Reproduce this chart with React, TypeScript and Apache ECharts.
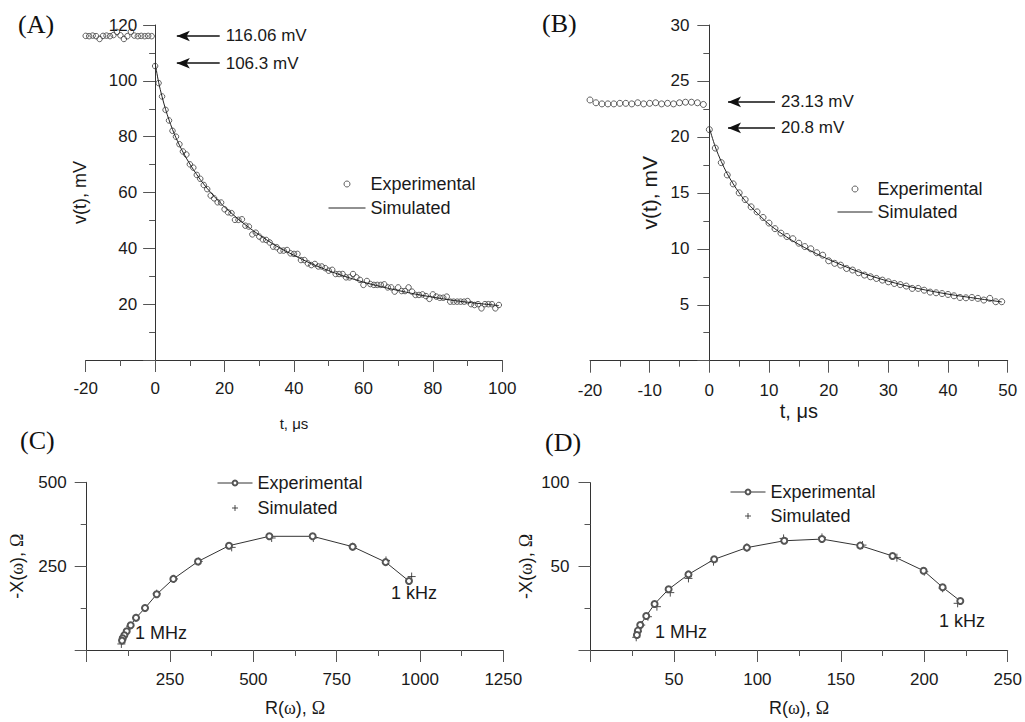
import React, { useEffect, useRef } from 'react';
import * as echarts from 'echarts';

const SANS = "'Liberation Sans', Arial, sans-serif";
const SERIF = "'Liberation Serif', 'Times New Roman', serif";

// ---------- Panel A: voltage transient (mV) ----------
const aPreStart = -20; // first sample time, μs (1 μs spacing)
const aPreV = [116.1, 116.0, 116.2, 116.0, 115.0, 116.1, 116.2, 116.0, 116.4, 117.5,
  116.3, 115.0, 116.0, 117.6, 116.2, 116.0, 116.1, 116.0, 116.1, 116.0];
const aPostStart = 0;
const aPostV = [105.3, 99.2, 94.4, 89.6, 85.8, 82.1, 80, 77.3, 74.7, 73.6,
  70.1, 68.9, 66.3, 64.9, 62.7, 61.2, 58.9, 57.9, 56.5, 56.4,
  54, 52.9, 52.6, 50.2, 50.2, 50.4, 48.1, 47.8, 45, 45.6,
  44.2, 43.2, 43, 42.1, 40.6, 40.4, 39.2, 39.2, 39.4, 38.2,
  38, 38, 35.8, 35.8, 34.6, 34, 34.4, 33.5, 33.5, 32.9,
  32, 32.3, 30.8, 30.8, 30.8, 29.6, 29.6, 30.8, 29.6, 28.7,
  26.9, 28.3, 27.2, 26.9, 26.9, 26.9, 27.1, 26, 26, 24.5,
  26, 24.7, 24.7, 26, 24.5, 23.3, 23.3, 23.5, 22.9, 21.9,
  23.5, 22.7, 22.3, 22.3, 22.7, 20.9, 20.9, 20.9, 20.9, 20.9,
  21.1, 20, 19.7, 20, 18.5, 20, 20, 20, 18.5, 19.7];
const aSimT = [0, 1, 2, 3, 4, 5, 6, 8, 10, 12, 14, 16, 18, 20, 25, 30, 35, 40, 45, 50, 55, 60, 65, 70, 75, 80, 85, 90, 95, 99];
const aSimV = [106.3, 99.5, 94.3, 89.8, 86, 82.6, 79.6, 74.5, 70.2, 66.4, 63, 60, 57.3, 54.8, 49.4, 44.8, 40.8, 37.5, 34.5, 32, 29.8, 27.9, 26.3, 24.9, 23.6, 22.5, 21.5, 20.7, 20, 19.5];
const aArrowVals = [116.06, 106.3];

// ---------- Panel B ----------
const bPreStart = -20;
const bPreV = [23.3, 23.05, 22.95, 22.95, 22.95, 23.0, 23.0, 22.95, 23.05, 22.95,
  23.0, 23.05, 22.95, 23.0, 22.95, 23.05, 23.1, 23.1, 23.05, 22.9];
const bPostStart = 0;
const bPostV = [20.65, 19.0, 17.7, 16.6, 15.8, 15.0, 14.4, 13.75, 13.3, 12.8,
  12.3, 11.8, 11.4, 11.1, 10.9, 10.5, 10.2, 10.0, 9.65, 9.43,
  8.93, 8.7, 8.54, 8.24, 8.1, 7.86, 7.65, 7.5, 7.35, 7.2,
  7.05, 6.9, 6.8, 6.67, 6.46, 6.46, 6.3, 6.13, 6.07, 6.0,
  5.92, 5.8, 5.65, 5.62, 5.65, 5.57, 5.42, 5.57, 5.27, 5.27];
const bSimT = [0, 1, 2, 3, 4, 5, 6, 8, 10, 12, 14, 16, 18, 20, 25, 30, 35, 40, 45, 49];
const bSimV = [20.8, 19.1, 17.8, 16.7, 15.8, 15.0, 14.3, 13.2, 12.2, 11.4, 10.7, 10.1, 9.55, 9.05, 7.95, 7.1, 6.45, 5.95, 5.55, 5.25];
const bArrowVals = [23.13, 20.8];

// ---------- Panel C: impedance (Ω) ----------
const cExpR = [967, 897, 798, 678, 548, 427, 334, 260, 210, 175, 148, 132, 120, 113, 108, 106];
const cExpX = [205.5, 262, 308, 339, 339, 311, 264, 212, 166, 125, 96, 74, 56, 44, 35, 28];
const cSimR = [975, 898, 798, 680, 555, 435, 336, 262, 210, 175, 148, 130, 118, 111, 107, 104];
const cSimX = [219, 267, 308, 334, 334, 306, 264, 212, 168, 125, 96, 71, 52, 40, 30, 18];

// ---------- Panel D ----------
const dExpR = [221.6, 211, 199.6, 181, 161.6, 138.7, 116.1, 93.7, 74.1, 58.7, 46.8, 38.4, 33.4, 29.8, 28.4, 27.8];
const dExpX = [29.3, 37.5, 47.4, 56.2, 62.4, 66.3, 65.3, 61.2, 54.2, 45.2, 36.3, 27.5, 20.3, 14.9, 11.6, 9];
const dSimR = [220, 211, 200, 183.6, 163, 138.7, 115.7, 93.7, 73.7, 58.7, 47.8, 39.8, 34.4, 30.4, 28.4, 27.4];
const dSimX = [27.9, 36.9, 46.8, 55.2, 62.7, 67.3, 66.7, 61.2, 52.8, 42.8, 34.3, 25.9, 19.9, 14.9, 11, 7.6];

const LABELS: Record<string, string> = {
  expA: 'Experimental', simA: 'Simulated',
  expB: 'Experimental', simB: 'Simulated',
  expC: 'Experimental', simC: 'Simulated',
  expD: 'Experimental', simD: 'Simulated',
};

const seq = (t0: number, vals: number[]) => vals.map((v, i) => [t0 + i, v]);
const zip = (xs: number[], ys: number[]) => xs.map((x, i) => [x, ys[i]]);

const AXIS_COLOR = '#333';
const TICK_COLOR = '#555';
const TEXT = '#1a1a1a';

// grid boxes (px)
const G = [
  { left: 85.7, top: 25, width: 416.6, height: 335 },
  { left: 590, top: 25, width: 417.7, height: 335.7 },
  { left: 86.7, top: 482.3, width: 416.6, height: 167.7 },
  { left: 590.5, top: 482.7, width: 417.2, height: 167.3 },
];
// y axis of A and B sits at t = 0: shift it inward from the grid's left edge
const yOffset = (g: number, min: number, max: number) => -G[g].width * (0 - min) / (max - min);

function valAxis(o: any) {
  return {
    type: 'value',
    gridIndex: o.grid,
    min: o.min,
    max: o.max,
    interval: o.interval,
    offset: o.offset || 0,
    axisLine: { show: true, onZero: false, lineStyle: { color: AXIS_COLOR, width: 1 } },
    axisTick: { show: true, length: 12, lineStyle: { color: TICK_COLOR, width: 1 } },
    minorTick: { show: true, splitNumber: 2, length: 6, lineStyle: { color: TICK_COLOR, width: 1 } },
    splitLine: { show: false },
    minorSplitLine: { show: false },
    axisLabel: {
      color: TEXT, fontSize: 17, fontFamily: SANS, margin: o.margin,
      hideOverlap: false,
      formatter: (v: number) => (o.hideZero && v === 0 ? '' : String(v)),
    },
    name: o.name,
    nameLocation: 'middle',
    nameGap: o.nameGap,
    nameMoveOverlap: false,
    nameTextStyle: {
      color: TEXT, fontSize: o.nameSize, fontFamily: SANS,
      rich: { g: { fontFamily: SERIF, fontSize: o.nameSize, color: TEXT } },
    },
  };
}

function arrowLine(x0: number, x1: number, vals: number[]) {
  return {
    silent: true,
    symbol: ['arrow', 'none'],
    symbolSize: [8, 13],
    lineStyle: { color: '#111', width: 1.5, type: 'solid' },
    label: { show: true, position: 'end', distance: 6, formatter: '{b}', color: TEXT, fontSize: 17, fontFamily: SANS },
    data: vals.map((v) => [{ coord: [x0, v], name: `${v} mV` }, { coord: [x1, v] }]),
  };
}

function legend(left: number, top: number, width: number, gap: number, names: string[], hideSymbolOf?: string) {
  return {
    show: true,
    orient: 'vertical',
    left, top,
    itemWidth: width,
    itemHeight: 6,
    itemGap: gap,
    selectedMode: false,
    data: names.map((n) => (n === hideSymbolOf ? { name: n, itemStyle: { opacity: 0 } } : { name: n })),
    formatter: (n: string) => LABELS[n],
    textStyle: { color: TEXT, fontSize: 18, fontFamily: SANS, lineHeight: 22 },
    itemStyle: { borderWidth: 1 },
    lineStyle: { width: 1 },
  };
}

const plusPath = 'path://M0,5L10,5M5,0L5,10';

const option: any = {
  animation: false,
  backgroundColor: '#fff',
  grid: G.map((g) => ({ ...g, outerBoundsMode: 'none', containLabel: false })),
  xAxis: [
    valAxis({ grid: 0, min: -20, max: 100, interval: 20, margin: 20, name: 't, μs', nameGap: 56, nameSize: 15 }),
    valAxis({ grid: 1, min: -20, max: 50, interval: 10, margin: 21, name: 't, μs', nameGap: 40, nameSize: 20 }),
    valAxis({ grid: 2, min: 0, max: 1250, interval: 250, margin: 21, hideZero: true, name: 'R({g|ω}), {g|Ω}', nameGap: 49, nameSize: 18 }),
    valAxis({ grid: 3, min: 0, max: 250, interval: 50, margin: 21, hideZero: true, name: 'R({g|ω}), {g|Ω}', nameGap: 49, nameSize: 18 }),
  ],
  yAxis: [
    valAxis({ grid: 0, min: 0, max: 120, interval: 20, margin: 18, hideZero: true, name: 'v(t), mV', nameGap: 66, nameSize: 18, offset: yOffset(0, -20, 100) }),
    valAxis({ grid: 1, min: 0, max: 30, interval: 5, margin: 20, hideZero: true, name: 'v(t), mV', nameGap: 49, nameSize: 21, offset: yOffset(1, -20, 50) }),
    valAxis({ grid: 2, min: 0, max: 500, interval: 250, margin: 20, hideZero: true, name: '-X({g|ω}), {g|Ω}', nameGap: 61, nameSize: 18 }),
    valAxis({ grid: 3, min: 0, max: 100, interval: 50, margin: 21, hideZero: true, name: '-X({g|ω}), {g|Ω}', nameGap: 56, nameSize: 18 }),
  ],
  legend: [
    legend(323, 168, 37, 2, ['expA', 'simA'], 'simA'),
    legend(832, 173, 35, 1, ['expB', 'simB'], 'simB'),
    legend(212, 467, 35, 3, ['expC', 'simC']),
    legend(725, 476, 35, 2, ['expD', 'simD']),
  ],
  series: [
    {
      name: 'expA', type: 'scatter', xAxisIndex: 0, yAxisIndex: 0,
      symbol: 'circle', symbolSize: 5.5,
      itemStyle: { color: 'rgba(0,0,0,0)', borderColor: '#3a3a3a', borderWidth: 1 },
      data: [...seq(aPreStart, aPreV), ...seq(aPostStart, aPostV)],
    },
    {
      name: 'simA', type: 'line', xAxisIndex: 0, yAxisIndex: 0,
      symbol: 'none', showSymbol: false, smooth: 0.3,
      lineStyle: { color: '#222', width: 1 }, itemStyle: { color: '#222' },
      data: zip(aSimT, aSimV),
      markLine: arrowLine(6.25, 18.6, aArrowVals),
    },
    {
      name: 'expB', type: 'scatter', xAxisIndex: 1, yAxisIndex: 1,
      symbol: 'circle', symbolSize: 6,
      itemStyle: { color: 'rgba(0,0,0,0)', borderColor: '#3a3a3a', borderWidth: 1 },
      data: [...seq(bPreStart, bPreV), ...seq(bPostStart, bPostV)],
    },
    {
      name: 'simB', type: 'line', xAxisIndex: 1, yAxisIndex: 1,
      symbol: 'none', showSymbol: false, smooth: 0.3,
      lineStyle: { color: '#222', width: 1 }, itemStyle: { color: '#222' },
      data: zip(bSimT, bSimV),
      markLine: arrowLine(3.13, 11.0, bArrowVals),
    },
    {
      name: 'expC', type: 'line', xAxisIndex: 2, yAxisIndex: 2,
      symbol: 'emptyCircle', symbolSize: 6, showSymbol: true,
      lineStyle: { color: '#333', width: 1 }, itemStyle: { color: '#555', borderWidth: 1 },
      data: zip(cExpR, cExpX),
    },
    {
      name: 'simC', type: 'scatter', xAxisIndex: 2, yAxisIndex: 2,
      symbol: plusPath, symbolSize: 8,
      itemStyle: { color: 'rgba(0,0,0,0)', borderColor: '#222', borderWidth: 1 },
      data: zip(cSimR, cSimX),
    },
    {
      name: 'expD', type: 'line', xAxisIndex: 3, yAxisIndex: 3,
      symbol: 'emptyCircle', symbolSize: 6, showSymbol: true,
      lineStyle: { color: '#333', width: 1 }, itemStyle: { color: '#555', borderWidth: 1 },
      data: zip(dExpR, dExpX),
    },
    {
      name: 'simD', type: 'scatter', xAxisIndex: 3, yAxisIndex: 3,
      symbol: plusPath, symbolSize: 8,
      itemStyle: { color: 'rgba(0,0,0,0)', borderColor: '#222', borderWidth: 1 },
      data: zip(dSimR, dSimX),
    },
  ],
  graphic: [
    { type: 'text', x: 18, y: 24, style: { text: '(A)', font: `26px ${SERIF}`, fill: '#111', verticalAlign: 'middle' } },
    { type: 'text', x: 542, y: 23, style: { text: '(B)', font: `26px ${SERIF}`, fill: '#111', verticalAlign: 'middle' } },
    { type: 'text', x: 20, y: 440, style: { text: '(C)', font: `26px ${SERIF}`, fill: '#111', verticalAlign: 'middle' } },
    { type: 'text', x: 545, y: 442, style: { text: '(D)', font: `26px ${SERIF}`, fill: '#111', verticalAlign: 'middle' } },
    { type: 'text', x: 391, y: 593, style: { text: '1 kHz', font: `18px ${SANS}`, fill: TEXT, verticalAlign: 'middle' } },
    { type: 'text', x: 135, y: 633, style: { text: '1 MHz', font: `18px ${SANS}`, fill: TEXT, verticalAlign: 'middle' } },
    { type: 'text', x: 939, y: 621, style: { text: '1 kHz', font: `18px ${SANS}`, fill: TEXT, verticalAlign: 'middle' } },
    { type: 'text', x: 655, y: 632, style: { text: '1 MHz', font: `18px ${SANS}`, fill: TEXT, verticalAlign: 'middle' } },
  ],
};

export default function App() {
  const ref = useRef<HTMLDivElement>(null);
  useEffect(() => {
    const chart = echarts.init(ref.current!, null, { renderer: 'svg' });
    chart.setOption(option);
    return () => chart.dispose();
  }, []);
  return <div ref={ref} style={{ position: 'absolute', left: 0, top: 0, width: 1025, height: 722 }} />;
}
